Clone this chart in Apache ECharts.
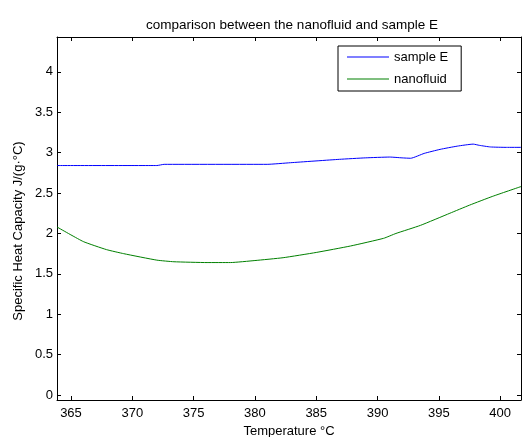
<!DOCTYPE html>
<html><head><meta charset="utf-8">
<script src="https://cdn.jsdelivr.net/npm/echarts@6/dist/echarts.min.js"></script>
<style>html,body{margin:0;padding:0;background:#fff}#c{width:523px;height:437px}</style>
</head><body><div id="c"></div>
<script>
const titleText = 'comparison between the nanofluid and sample E';
const xName = 'Temperature °C';
const yName = 'Specific Heat Capacity J/(g·°C)';
const xTicks = [365, 370, 375, 380, 385, 390, 395, 400];
const yTicks = [0, 0.5, 1, 1.5, 2, 2.5, 3, 3.5, 4];
const sampleE_T = [363.86, 372.0, 372.6, 381.0, 382.9, 386.9, 389.0, 391.0, 392.0, 392.7, 393.8, 395.1, 396.5, 397.8, 398.3, 399.2, 400.5, 401.7];
const sampleE_C = [2.84, 2.84, 2.855, 2.855, 2.875, 2.917, 2.935, 2.945, 2.935, 2.93, 2.99, 3.04, 3.08, 3.105, 3.09, 3.07, 3.065, 3.065];
const nano_T = [363.86, 366.0, 367.9, 369.3, 372.0, 373.4, 376.1, 378.0, 380.0, 382.3, 385.0, 387.8, 390.5, 391.5, 393.5, 395.9, 397.5, 399.4, 401.7];
const nano_C = [2.08, 1.90, 1.80, 1.75, 1.67, 1.65, 1.64, 1.64, 1.665, 1.70, 1.765, 1.845, 1.94, 2.00, 2.10, 2.25, 2.35, 2.46, 2.58];

const xMin = 363.86, xMax = 401.7, yMin = -0.06, yMax = 4.43;
const font = 'Liberation Sans, Arial, sans-serif';
const chart = echarts.init(document.getElementById('c'));
const axisCommon = {
  type: 'value', scale: true,
  axisLine: {show: true, onZero: false, lineStyle: {color: '#000', width: 1}},
  axisTick: {show: true, inside: true, length: 4, lineStyle: {color: '#000'}},
  splitLine: {show: false}
};
chart.setOption({
  animation: false,
  backgroundColor: '#fff',
  title: {text: titleText, left: 287, top: 13, textAlign: 'center',
    textStyle: {fontFamily: font, fontSize: 13.5, fontWeight: 'normal', color: '#000'}},
  legend: {
    data: ['sample E', 'nanofluid'], orient: 'vertical', left: 338, top: 46,
    padding: [4, 13, 5, 9], itemGap: 8, itemTextGap: 5,
    borderColor: '#000', borderWidth: 1, backgroundColor: '#fff',
    itemWidth: 42, itemHeight: 1, icon: 'rect',
    textStyle: {fontFamily: font, fontSize: 13, lineHeight: 14, color: '#000'}
  },
  graphic: [{
    type: 'text', x: 18, y: 231, rotation: Math.PI / 2,
    style: {text: yName, fontFamily: font, fontSize: 13, fill: '#000', align: 'center', verticalAlign: 'middle'}
  }],
  grid: {left: 57, right: 2, top: 37, bottom: 37, containLabel: false, outerBoundsMode: 'none'},
  xAxis: [
    Object.assign({}, axisCommon, {position: 'bottom', min: xMin, max: xMax,
      axisTick: Object.assign({}, axisCommon.axisTick, {customValues: xTicks}),
      axisLabel: {customValues: xTicks, fontFamily: font, fontSize: 13, color: '#000', margin: 7},
      name: xName, nameLocation: 'middle', nameGap: 24,
      nameTextStyle: {fontFamily: font, fontSize: 13, color: '#000'}}),
    Object.assign({}, axisCommon, {position: 'top', min: xMin, max: xMax,
      axisTick: Object.assign({}, axisCommon.axisTick, {customValues: xTicks}),
      axisLabel: {show: false}})
  ],
  yAxis: [
    Object.assign({}, axisCommon, {position: 'left', min: yMin, max: yMax,
      axisTick: Object.assign({}, axisCommon.axisTick, {customValues: yTicks}),
      axisLabel: {customValues: yTicks, fontFamily: font, fontSize: 13, color: '#000', margin: 4}}),
    Object.assign({}, axisCommon, {position: 'right', min: yMin, max: yMax,
      axisTick: Object.assign({}, axisCommon.axisTick, {customValues: yTicks}),
      axisLabel: {show: false}})
  ],
  series: [
    {name: 'sample E', type: 'line', showSymbol: false, smooth: 0.15,
      data: sampleE_T.map((t, i) => [t, sampleE_C[i]]),
      lineStyle: {color: '#0000ff', width: 1}, itemStyle: {color: '#0000ff'}},
    {name: 'nanofluid', type: 'line', showSymbol: false, smooth: 0.15,
      data: nano_T.map((t, i) => [t, nano_C[i]]),
      lineStyle: {color: '#008000', width: 1}, itemStyle: {color: '#008000'}}
  ]
});
</script></body></html>
